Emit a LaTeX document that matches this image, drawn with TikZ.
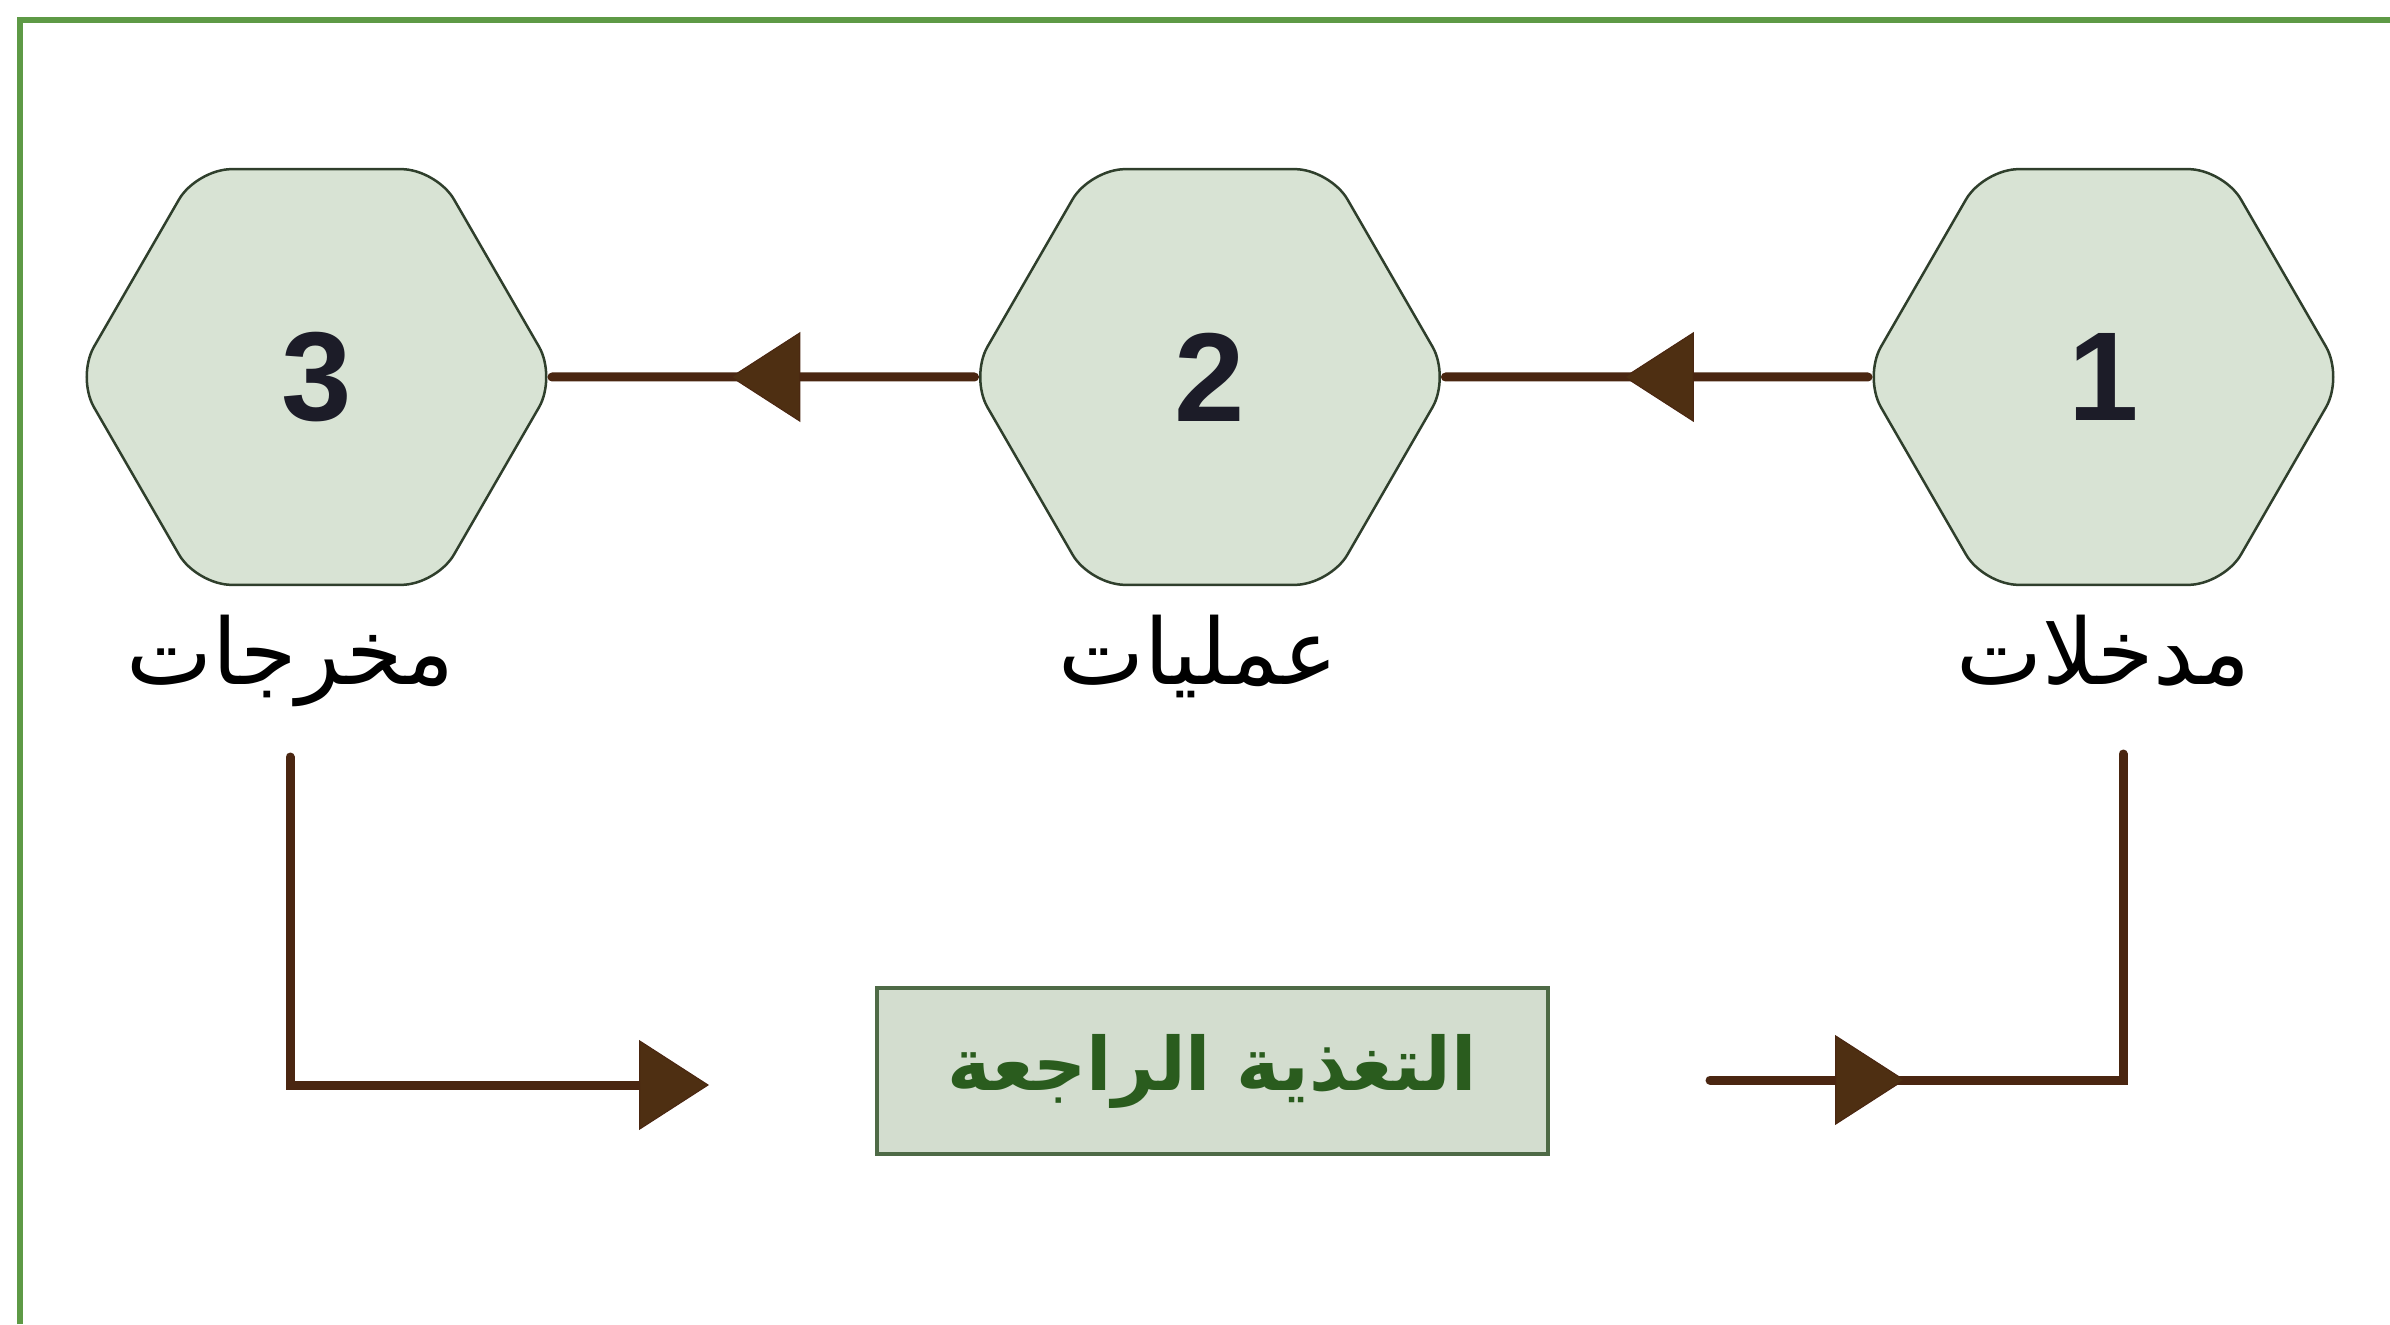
\documentclass[tikz,border=0pt]{standalone}
\usepackage{fontspec}
\setmainfont{Liberation Sans}
\newfontfamily\arabicfont[Script=Arabic]{DejaVu Sans}
\TeXXeTstate=1
\usetikzlibrary{positioning,shapes.geometric,arrows.meta,decorations.markings}

\definecolor{framegreen}{HTML}{5E9A46}
\definecolor{hexfill}{HTML}{D8E3D4}
\definecolor{hexedge}{HTML}{2F3F2C}
\definecolor{digitink}{HTML}{1C1C28}
\definecolor{flowbrown}{HTML}{4A2611}
\definecolor{tipbrown}{HTML}{4E2F12}
\definecolor{fbfill}{HTML}{D3DDCF}
\definecolor{fbedge}{HTML}{4E6A46}
\definecolor{fbtext}{HTML}{2A5C1E}

\tikzset{
  hexa/.style={draw=hexedge, line width=0.025cm, fill=hexfill, regular polygon, regular polygon sides=6,
    minimum size=4.8cm, rounded corners=0.35cm, inner sep=0pt, text=digitink,
    font=\fontsize{36}{36}\selectfont\bfseries},
  hexlabel/.style={font=\arabicfont\fontsize{26}{28}\selectfont, inner sep=0pt},
  fbbox/.style={draw=fbedge, line width=0.04cm, fill=fbfill, minimum width=6.71cm, minimum height=1.66cm,
    text=fbtext, font=\arabicfont\bfseries\fontsize{21}{24}\selectfont},
  flow/.style={draw=flowbrown, line width=0.09cm, line cap=round},
  midarrow/.style={postaction={decorate}, decoration={markings,
    mark=at position #1 with {\arrow{Triangle[length=0.7cm,width=0.9cm,line width=0.01cm,fill=tipbrown]}}}}
}

\begin{document}
\begin{tikzpicture}
\useasboundingbox (0,0) rectangle (23.9,13.24);
% outer frame, open to the right and bottom
\draw[framegreen, line width=0.055cm] (0.2,0) |- (23.9,13.04);

\matrix[ampersand replacement=\&, column sep=4.11cm] at (12.10,9.47) {
\node[hexa] (h3) {3}; \& \node[hexa] (h2) {2}; \& \node[hexa] (h1) {1}; \\ };

\node[hexlabel, below=0.28cm of h3, xshift=-0.26cm] (l3) {\arabicfont\beginR مخرجات\endR};
\node[hexlabel, below=0.28cm of h2, xshift=-0.12cm] (l2) {\arabicfont\beginR عمليات\endR};
\node[hexlabel, below=0.28cm of h1] (l1) {\arabicfont\beginR مدخلات\endR};

\draw[flow, midarrow=0.58, shorten <=-0.06cm, shorten >=-0.06cm] (h1.west) -- (h2.east);
\draw[flow, midarrow=0.58, shorten <=-0.06cm, shorten >=-0.06cm] (h2.west) -- (h3.east);

% feedback loop
\node[fbbox] (fb) at (12.12,2.53) {\beginR التغذية الراجعة\endR};
\coordinate (outdrop) at (2.90,5.67);
\coordinate (fbin) at (7.09,2.39);
\coordinate (fbout) at (17.10,2.44);
\coordinate (inrise) at (21.23,5.70);
\draw[flow, -{Triangle[length=0.7cm,width=0.9cm,line width=0.01cm,fill=tipbrown]}] (outdrop) |- (fbin);
\draw[flow, midarrow=1.95cm] (fbout) -| (inrise);
\end{tikzpicture}
\end{document}
